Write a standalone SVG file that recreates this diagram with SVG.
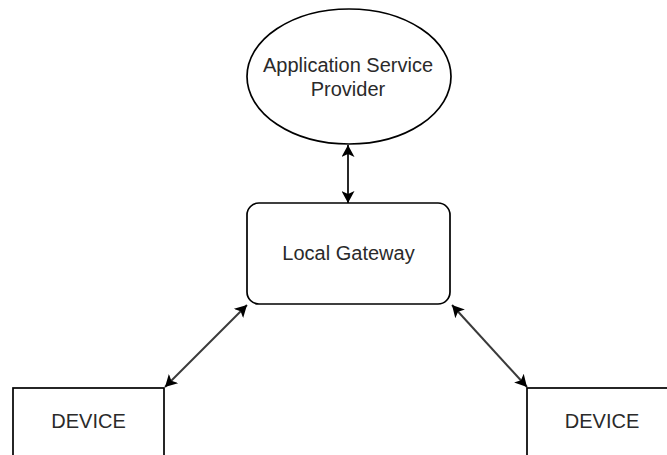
<svg xmlns="http://www.w3.org/2000/svg" width="667" height="455" viewBox="0 0 667 455">
  <style>
    .shape { fill: #ffffff; stroke: #000000; stroke-width: 1.7; }
    .label { font-family: "Liberation Sans", Arial, sans-serif; font-size: 20px; fill: #2a2a2a; text-anchor: middle; }
    .link { stroke: #111111; stroke-width: 1.8; fill: none; marker-start: url(#head); marker-end: url(#head); }
    .link.diag { stroke: #3a3a3a; stroke-width: 2; }
  </style>
  <defs>
    <marker id="head" viewBox="0 0 12 13" markerWidth="12" markerHeight="13" markerUnits="userSpaceOnUse" refX="12" refY="6.5" orient="auto-start-reverse">
      <path d="M0,0 L12,6.5 L0,13 L3,6.5 Z" fill="#000000"/>
    </marker>
  </defs>
  <rect width="667" height="455" fill="#ffffff"/>

  <g id="connectors">
    <line class="link" x1="348" y1="145" x2="348" y2="203"/>
    <line class="link diag" x1="247" y1="305" x2="165" y2="387"/>
    <line class="link diag" x1="452" y1="305" x2="527" y2="387"/>
  </g>

  <g id="asp">
    <ellipse class="shape" cx="349" cy="76.5" rx="102" ry="67.5"/>
    <text class="label" x="348" y="72">Application Service</text>
    <text class="label" x="348" y="96">Provider</text>
  </g>

  <g id="gateway">
    <rect class="shape" x="247" y="203" width="203" height="101" rx="12" ry="12"/>
    <text class="label" x="348.5" y="260">Local Gateway</text>
  </g>

  <g id="device-left">
    <rect class="shape" x="13" y="388" width="151" height="68"/>
    <text class="label" x="88.5" y="428">DEVICE</text>
  </g>

  <g id="device-right">
    <rect class="shape" x="527" y="388" width="151" height="68"/>
    <text class="label" x="602" y="428">DEVICE</text>
  </g>
</svg>
